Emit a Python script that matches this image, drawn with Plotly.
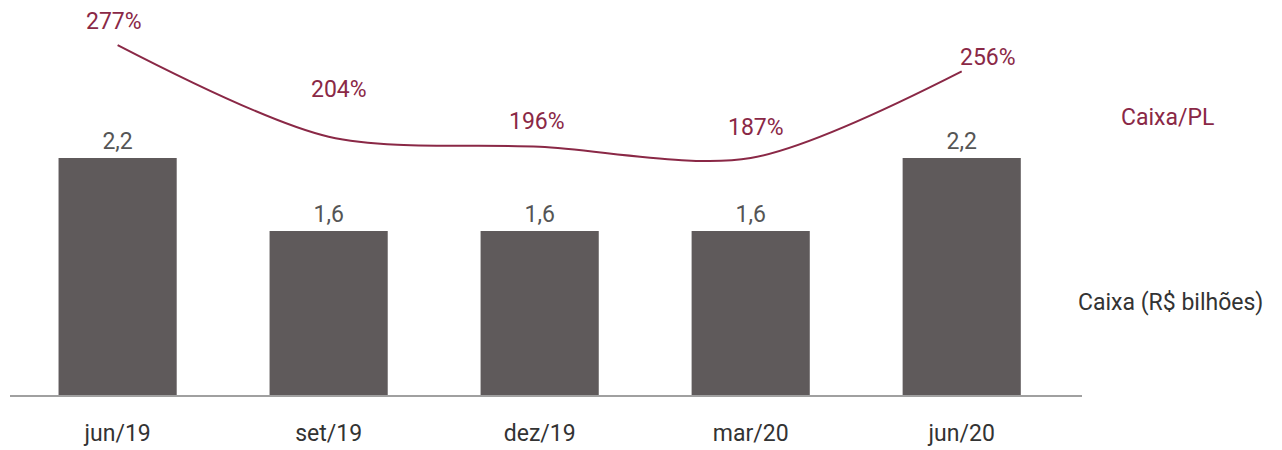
import plotly.graph_objects as go

categories = ["jun/19", "set/19", "dez/19", "mar/20", "jun/20"]
caixa_bi = [2.24, 1.55, 1.55, 1.55, 2.24]          # Caixa (R$ bilhões)
caixa_pl = [277, 204, 196, 187, 256]                # Caixa/PL (%)

bar_labels = [f"{v:.1f}".replace(".", ",") for v in caixa_bi]
pl_labels = [f"{v}%" for v in caixa_pl]

BAR = "#5f5a5b"
RED = "#8a2846"
FONT = "Roboto"

fig = go.Figure()
fig.add_trace(go.Bar(
    x=categories, y=caixa_bi, marker_color=BAR, marker_line_width=0,
    text=bar_labels, textposition="outside", cliponaxis=False,
    textfont=dict(family=FONT, size=23, color="#555555"),
    hoverinfo="skip", showlegend=False,
))
fig.add_trace(go.Scatter(
    x=categories, y=caixa_pl, yaxis="y2", mode="lines",
    line=dict(color=RED, width=2, shape="spline", smoothing=0.85),
    hoverinfo="skip", showlegend=False, cliponaxis=False,
))

shifts = [(-4, 24), (10, 47), (-3, 25), (5, 31), (26, 14)]
for c, v, t, (dx, dy) in zip(categories, caixa_pl, pl_labels, shifts):
    fig.add_annotation(x=c, y=v, yref="y2", text=t, showarrow=False,
                       xshift=dx, yshift=dy,
                       font=dict(family=FONT, size=23, color=RED))

fig.add_annotation(xref="paper", yref="paper", x=(1119 - 10) / 1072, y=(395 - 117) / 385,
                   xanchor="left", yanchor="middle", text="Caixa/PL", showarrow=False,
                   font=dict(family=FONT, size=23, color=RED))
fig.add_annotation(xref="paper", yref="paper", x=(1076 - 10) / 1072, y=(395 - 302) / 385,
                   xanchor="left", yanchor="middle", text="Caixa (R$ bilhões)", showarrow=False,
                   font=dict(family=FONT, size=23, color="#333333"))

fig.update_layout(
    width=1282, height=450,
    margin=dict(l=2, r=208, t=2, b=63),
    paper_bgcolor="white", plot_bgcolor="white",
    bargap=0.44,
    font=dict(family=FONT, size=23, color="#333333"),
    xaxis=dict(range=[-0.51, 4.57], showline=True, linecolor="#a0a0a0", linewidth=1.5,
               showgrid=False, zeroline=False, ticks="outside", ticklen=17,
               tickcolor="rgba(0,0,0,0)", tickfont=dict(family=FONT, size=23, color="#333333")),
    yaxis=dict(range=[0, 385 / (237 / 2.24)], visible=False, showgrid=False, zeroline=False),
    yaxis2=dict(range=[-1.7, 304.9], overlaying="y", visible=False, showgrid=False,
                zeroline=False),
)

fig.write_html("out.html")
